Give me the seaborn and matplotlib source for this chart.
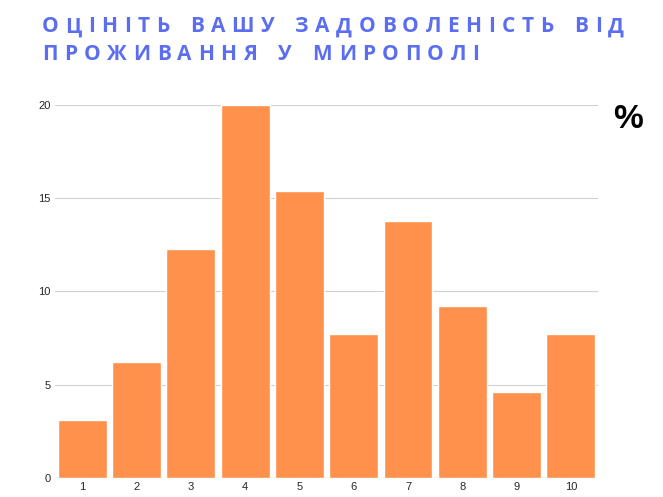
import matplotlib
matplotlib.use("Agg")
import matplotlib.pyplot as plt
import seaborn as sns
import pandas as pd

categories = ["1", "2", "3", "4", "5", "6", "7", "8", "9", "10"]
values = [3.1, 6.2, 12.3, 20.0, 15.4, 7.7, 13.8, 9.2, 4.6, 7.7]
title_lines = ["ОЦІНІТЬ ВАШУ ЗАДОВОЛЕНІСТЬ ВІД", "ПРОЖИВАННЯ У МИРОПОЛІ"]

sns.set_style("white")
plt.rcParams['font.family'] = ['Liberation Sans', 'DejaVu Sans']

df = pd.DataFrame({"cat": categories, "val": values})
fig = plt.figure(figsize=(6.63, 4.97), dpi=100)
ax = fig.add_axes([0.083, 0.038, 0.819, 0.751])
sns.barplot(data=df, x="cat", y="val", color="#ff914d", saturation=1, width=0.9, ax=ax, zorder=3)
ax.set_ylim(0, 20)
ax.set_yticks([0, 5, 10, 15, 20])
ax.grid(axis="y", color="#d0d0d0", linewidth=0.8, zorder=0)
ax.set_xlabel("")
ax.set_ylabel("")
ax.tick_params(labelsize=8, length=0, pad=3)
for s in ax.spines.values():
    s.set_visible(False)
ax.axhline(0, color="#999999", linewidth=0.8, zorder=4)

# letter-spaced title, each character placed after measuring the previous one
renderer = fig.canvas.get_renderer()
gap = 6.5  # px between letters
for i, line in enumerate(title_lines):
    y = 1 - (27 + i * 27) / 497
    xpx = 42
    for ch in line:
        if ch == " ":
            xpx += 8 + gap
            continue
        t = fig.text(xpx / 663, y, ch, fontsize=15, fontweight="bold", color="#5b6ef0",
                     va="center", family=['Open Sans', 'DejaVu Sans'])
        w = t.get_window_extent(renderer).width
        xpx += w + gap
fig.text(0.925, 0.76, "%", fontsize=24, fontweight="bold", color="black", ha="left", va="center")
fig.savefig("out.png", dpi=100)
